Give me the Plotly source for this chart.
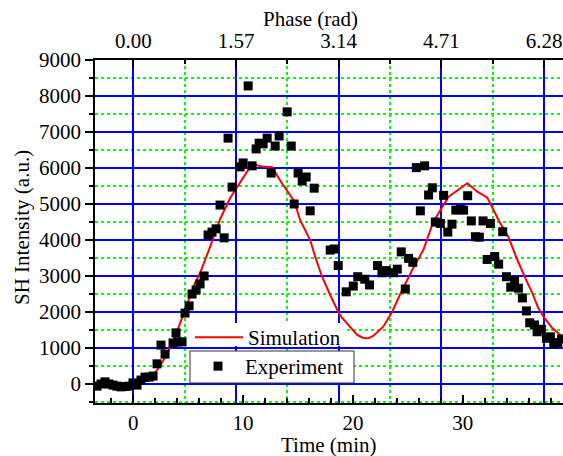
import plotly.graph_objects as go

# ---- data ----
t_exp = [-3.31,-2.94,-2.58,-2.22,-1.85,-1.49,-1.12,-0.76,-0.39,-0.03,
         0.34,0.70,1.07,1.43,1.80,2.16,2.52,2.89,3.62,3.89,
         4.07,4.44,4.71,5.08,5.35,5.72,6.08,6.45,6.81,7.17,
         7.54,7.90,8.27,8.63,9.00,9.73,10.00,10.46,10.82,11.19,
         11.46,11.82,12.19,12.55,12.92,13.28,14.01,14.38,14.65,15.01,
         15.38,15.74,16.11,16.47,17.93,18.29,18.66,19.39,20.03,20.44,
         21.08,21.51,22.24,22.64,23.04,23.70,24.04,24.40,24.77,25.07,
         25.45,25.77,26.14,26.53,26.89,27.23,27.50,27.96,28.26,28.64,
         29.02,29.37,29.78,30.08,30.45,30.78,31.15,31.51,31.85,32.22,
         32.52,32.91,33.27,33.64,33.98,34.37,34.72,35.07,35.43,35.80,
         36.10,36.53,36.77,37.16,37.62,37.98,38.29,38.65,38.99]
v_exp = [-60,0,60,0,-30,-60,-80,-70,-60,30,
         -30,110,190,190,220,560,1080,830,1140,1420,
         1170,1170,1970,2170,2500,2610,2780,3000,4140,4220,
         4310,4970,4060,6830,5470,6030,6140,8280,6060,6530,
         6690,6670,6830,5860,6610,6890,7560,6610,5000,5860,
         5640,5750,4810,5440,3720,3750,3290,2560,2720,2980,
         2910,2750,3290,3090,3150,3090,3190,3670,2640,3490,
         3380,6010,4810,6060,5250,5450,4500,4460,5240,4220,
         4440,4830,4850,4830,5230,4530,4090,4080,4530,3460,
         4460,3540,3330,4230,2980,2690,2870,2660,2390,2030,
         1700,1640,1450,1520,1270,1310,1110,1150,1250]

t_sim = [0,0.61,1.07,1.52,1.98,2.43,2.89,3.35,3.80,4.26,
         4.71,5.17,5.62,6.08,7.00,7.91,8.82,9.73,10.82,11.73,
         12.64,13.46,14.38,14.65,15.19,16.11,16.56,17.20,17.93,18.66,
         19.02,19.57,20.39,20.94,21.39,21.85,22.76,23.58,24.31,25.40,
         26.41,27.32,28.69,30.42,31.33,32.24,33.34,34.16,34.98,35.71,
         36.35,36.89,37.35,38.17,39.08]
v_sim = [0,56,111,181,314,500,736,1014,1314,1686,
         2083,2444,2806,3083,3814,4583,5167,5611,6111,6042,
         6019,5611,5203,5083,4556,4000,3536,2972,2472,2008,
         1833,1639,1361,1278,1269,1333,1592,2008,2500,3167,
         3722,4500,5194,5575,5342,5175,4508,4083,3444,2936,
         2519,2103,1869,1547,1314]

time_range = [-3.488, 39.13]
phase_range = [-0.5855, 6.569]
y_range = [-528, 9000]
phase_ticks = [0.00, 1.57, 3.14, 4.71, 6.28]
phase_minor = [0.785, 2.355, 3.925, 5.495]

FONT = "Liberation Serif"
FS = 21
BLUE = "#0000ff"
GREEN = "#00ff00"

L, T, W, H = 95, 60, 468, 343   # plot area in pixels
def px(x):
    return (x - L) / W
def py(y):
    return (T + H - y) / H

fig = go.Figure()

fig.add_trace(go.Scatter(
    x=t_sim, y=v_sim, mode="lines", name="Simulation",
    line=dict(color="#ff0000", width=2), legend="legend"))

fig.add_trace(go.Scatter(
    x=t_exp, y=v_exp, mode="markers", name="Experiment",
    marker=dict(symbol="square", size=9, color="black"),
    legend="legend2"))

# invisible trace to anchor the top (phase) axis
fig.add_trace(go.Scatter(x=phase_ticks, y=[None]*len(phase_ticks), xaxis="x2",
                         mode="markers", showlegend=False, hoverinfo="skip"))

tf = dict(family=FONT, size=FS, color="black")
axis_common = dict(showline=True, linecolor="black", linewidth=1.5,
                   tickcolor="black", tickwidth=1.5, zeroline=False, automargin=False,
                   tickfont=tf)

fig.update_layout(
    width=563, height=456,
    margin=dict(l=L, r=563 - L - W, t=T, b=456 - T - H, autoexpand=False),
    paper_bgcolor="white", plot_bgcolor="white",
    font=tf,
    xaxis=dict(range=time_range, dtick=10, tick0=0, ticks="inside", ticklen=8,
               ticklabelstandoff=0, showgrid=False,
               minor=dict(dtick=2, ticks="inside", ticklen=5, tickcolor="black", showgrid=False),
               **axis_common),
    xaxis2=dict(range=phase_range, overlaying="x", side="top", anchor="y",
                tickvals=phase_ticks, ticktext=[f"{v:.2f}" for v in phase_ticks],
                ticks="inside", ticklen=8, ticklabelstandoff=2,
                showgrid=True, gridcolor=BLUE, gridwidth=1.5,
                minor=dict(tickvals=phase_minor, ticks="inside", ticklen=4,
                           tickcolor="black", showgrid=True, gridcolor=GREEN,
                           griddash="dot", gridwidth=1.5),
                **axis_common),
    yaxis=dict(range=y_range, dtick=1000, tick0=0, ticks="outside", ticklen=8,
               showgrid=True, gridcolor=BLUE, gridwidth=1.5,
               minor=dict(dtick=500, ticks="outside", ticklen=4, tickcolor="black",
                          showgrid=True, gridcolor=GREEN, griddash="dot", gridwidth=1.5),
               **axis_common),
    legend=dict(x=px(190), y=py(317), xanchor="left", yanchor="top",
                bgcolor="rgba(0,0,0,0)", borderwidth=0, itemwidth=48, font=tf),
    legend2=dict(x=px(191), y=py(346), xanchor="left", yanchor="top",
                 bgcolor="rgba(0,0,0,0)", borderwidth=0, itemwidth=44, font=tf),
    shapes=[
        # white backing behind the "Simulation" legend text
        dict(type="rect", xref="paper", yref="paper", layer="above",
             x0=px(187), x1=px(346), y0=py(346), y1=py(323),
             fillcolor="white", line=dict(width=0)),
        # framed box of the "Experiment" legend
        dict(type="rect", xref="paper", yref="paper", layer="above",
             x0=px(190), x1=px(354), y0=py(383), y1=py(351),
             fillcolor="white", line=dict(color="#333333", width=1)),
    ],
    annotations=[
        dict(text="Phase (rad)", xref="paper", yref="paper", x=px(310.5), y=py(19),
             xanchor="center", yanchor="middle", showarrow=False, font=tf),
        dict(text="Time (min)", xref="paper", yref="paper", x=px(328.5), y=py(445),
             xanchor="center", yanchor="middle", showarrow=False, font=tf),
        dict(text="SH Intensity (a.u.)", xref="paper", yref="paper", x=px(22), y=py(228),
             xanchor="center", yanchor="middle", showarrow=False, textangle=-90, font=tf),
    ],
)

fig.write_html("out.html", config={"displayModeBar": False},
               post_script="document.body.style.margin='0';document.body.style.overflow='hidden';")
